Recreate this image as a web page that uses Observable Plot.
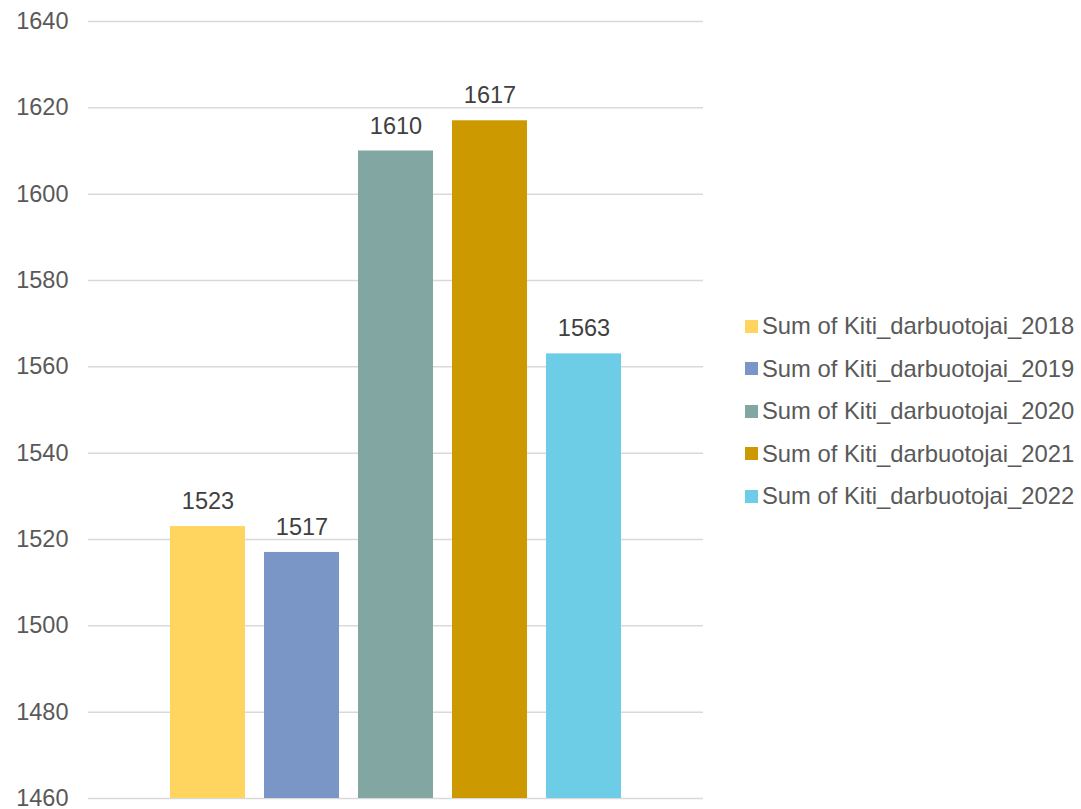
<!DOCTYPE html>
<html>
<head>
<meta charset="utf-8">
<script src="https://cdn.jsdelivr.net/npm/d3@7"></script>
<script src="https://cdn.jsdelivr.net/npm/@observablehq/plot@0.6"></script>
<style>
  html, body { margin: 0; padding: 0; background: #fff; }
  #wrap { position: relative; width: 1081px; height: 809px; font-family: "Liberation Sans", Arial, sans-serif; }
  #wrap svg { position: absolute; left: 0; top: 0; overflow: visible; }
  #legend { position: absolute; left: 745px; top: 305px; }
  .item { display: flex; align-items: center; height: 42.5px; font-size: 23.8px; color: #595959; white-space: nowrap; }
  .sw { width: 13px; height: 13px; margin-right: 4px; flex: none; }
</style>
</head>
<body>
<div id="wrap"></div>
<script>
const series = ["Sum of Kiti_darbuotojai_2018", "Sum of Kiti_darbuotojai_2019", "Sum of Kiti_darbuotojai_2020", "Sum of Kiti_darbuotojai_2021", "Sum of Kiti_darbuotojai_2022"];
const values = [1523, 1517, 1610, 1617, 1563];
const colors = ["#FFD55F", "#7A96C7", "#82A6A2", "#CC9900", "#6DCCE6"];
const yTicks = [1460, 1480, 1500, 1520, 1540, 1560, 1580, 1600, 1620, 1640];

const data = series.map((s, i) => ({series: s, value: values[i]}));

const chart = Plot.plot({
  width: 1081,
  height: 809,
  marginLeft: 88,
  marginRight: 378,
  marginTop: 21,
  marginBottom: 11,
  style: {fontFamily: "Liberation Sans, Arial, sans-serif", fontSize: "23.5px", background: "#fff", overflow: "visible"},
  x: {domain: series, paddingInner: 0.206, paddingOuter: 0.857, axis: null},
  y: {domain: [1460, 1640], ticks: yTicks, grid: false, label: null},
  color: {domain: series, range: colors},
  marks: [
    Plot.ruleY(yTicks, {stroke: "#D9D9D9", strokeWidth: 1.5, strokeOpacity: 1}),
    Plot.barY(data, {x: "series", y1: 1460, y2: "value", fill: "series"}),
    Plot.text(data, {x: "series", y: "value", text: d => String(d.value), dy: -25, fill: "#404040", fontSize: 23.5}),
    Plot.axisY(yTicks, {tickSize: 0, tickPadding: 20, fontSize: 23.5, fill: "#595959", label: null, tickFormat: d => String(d)})
  ]
});
document.getElementById("wrap").appendChild(chart);

const legend = document.createElement("div");
legend.id = "legend";
series.forEach((s, i) => {
  const it = document.createElement("div");
  it.className = "item";
  const sw = document.createElement("span");
  sw.className = "sw";
  sw.style.background = colors[i];
  const t = document.createElement("span");
  t.textContent = s;
  it.appendChild(sw);
  it.appendChild(t);
  legend.appendChild(it);
});
document.getElementById("wrap").appendChild(legend);
</script>
</body>
</html>
